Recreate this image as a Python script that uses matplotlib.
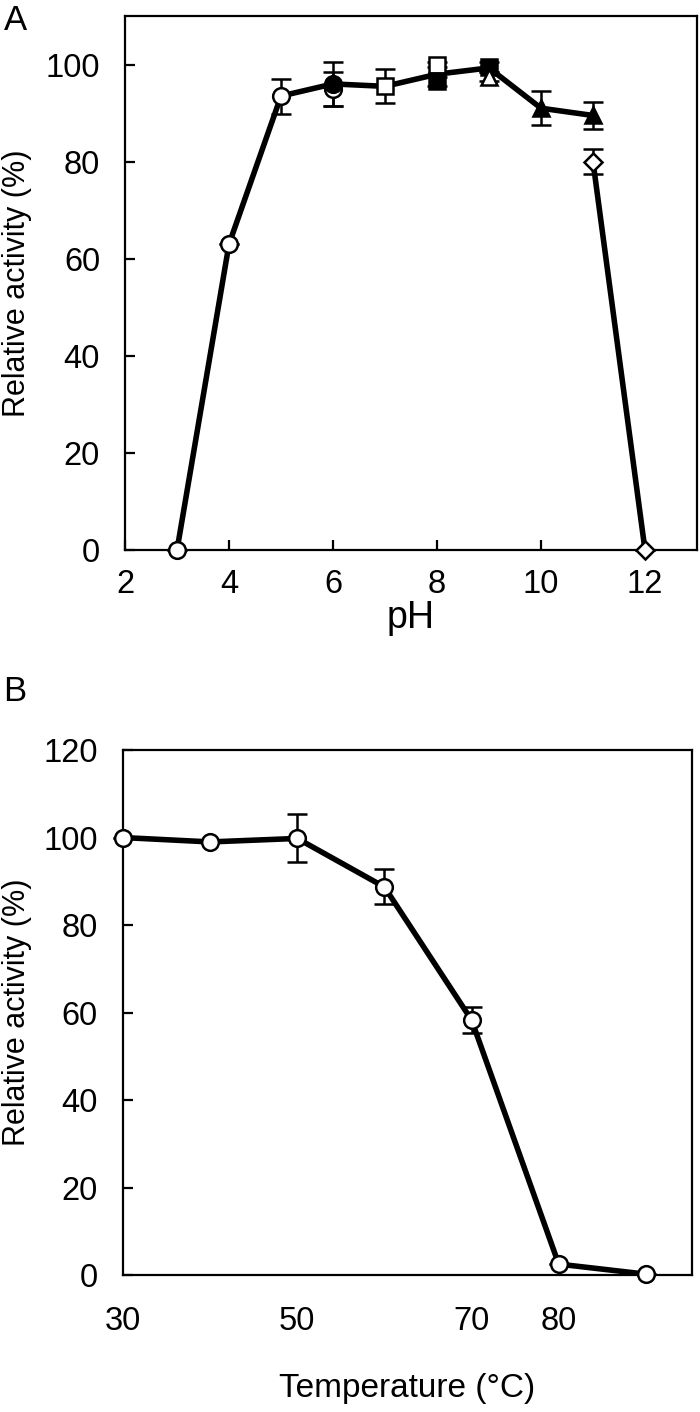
import matplotlib
matplotlib.use("Agg")
import matplotlib.pyplot as plt

plt.rcParams['font.family'] = ['Liberation Sans', 'DejaVu Sans']

# ---- panel A: pH profile (one series per buffer) ----
circ_open_ph = [3, 4, 5, 6]
circ_open_act = [0, 63, 93.5, 95]
circ_open_err = [0, 0, 3.6, 3.5]

circ_fill_ph = [6]
circ_fill_act = [96]
circ_fill_err = [4.5]

sq_open_ph = [7, 8]
sq_open_act = [95.5, 100]
sq_open_err = [3.5, 0.5]

sq_fill_ph = [8, 9]
sq_fill_act = [96.5, 99.5]
sq_fill_err = [1.0, 1.0]

tri_open_ph = [9]
tri_open_act = [97.5]
tri_open_err = [1.0]

tri_fill_ph = [10, 11]
tri_fill_act = [91, 89.5]
tri_fill_err = [3.5, 2.8]

dia_open_ph = [11, 12]
dia_open_act = [80, 0]
dia_open_err = [2.6, 0]

# connecting line drawn through the buffers
trend_ph = [3, 4, 5, 6, 7, 8, 9, 10, 11]
trend_act = [0, 63, 93.5, 96, 95.5, 98, 99.3, 91, 89.5]

# ---- panel B: temperature profile ----
temp = [30, 40, 50, 60, 70, 80, 90]
temp_act = [100, 99, 99.8, 88.7, 58.3, 2.5, 0.2]
temp_err = [0, 0, 5.5, 4, 3, 0, 0]
temp_ticks = [30, 50, 70, 80]

fig = plt.figure(figsize=(7, 14.12), dpi=100)
axA = fig.add_axes([0.1786, 0.6105, 0.8171, 0.3782])
axB = fig.add_axes([0.1757, 0.0970, 0.8129, 0.3718])

lw = 4
ms = 12
mew = 1.8
cap = dict(capsize=7, elinewidth=1.8, capthick=1.8, ecolor='black')

axA.plot(trend_ph, trend_act, color='black', lw=lw, zorder=2)
axA.plot(dia_open_ph, dia_open_act, color='black', lw=lw, zorder=2)

series = [
    (circ_open_ph, circ_open_act, circ_open_err, 'o', 'white'),
    (circ_fill_ph, circ_fill_act, circ_fill_err, 'o', 'black'),
    (sq_open_ph, sq_open_act, sq_open_err, 's', 'white'),
    (sq_fill_ph, sq_fill_act, sq_fill_err, 's', 'black'),
    (tri_open_ph, tri_open_act, tri_open_err, '^', 'white'),
    (tri_fill_ph, tri_fill_act, tri_fill_err, '^', 'black'),
    (dia_open_ph, dia_open_act, dia_open_err, 'D', 'white'),
]
for x, y, e, m, fc in series:
    size = ms - 2.5 if m == 'D' else ms
    axA.errorbar(x, y, yerr=e, fmt=m, ms=size, mfc=fc, mec='black', mew=mew,
                 zorder=3, clip_on=False, **cap)

axA.set_xlim(2, 13)
axA.set_ylim(0, 110)
axA.set_xticks(range(2, 13, 2))
axA.set_yticks(range(0, 101, 20))
axA.set_xlabel('pH', fontsize=27, labelpad=0)
axA.set_ylabel('Relative activity (%)', fontsize=22)
axA.yaxis.set_label_coords(-0.163, 0.5)

axB.plot(temp, temp_act, color='black', lw=lw, zorder=2)
axB.errorbar(temp, temp_act, yerr=temp_err, fmt='o', ms=ms, mfc='white',
             mec='black', mew=mew, zorder=3, clip_on=False, **cap)
axB.set_xlim(30, 95.3)
axB.set_ylim(0, 120)
axB.set_xticks(temp_ticks)
axB.set_yticks(range(0, 121, 20))
axB.set_xlabel('Temperature (\u00b0C)', fontsize=24, labelpad=26)
axB.set_ylabel('Relative activity (%)', fontsize=22)
axB.yaxis.set_label_coords(-0.16, 0.5)

for ax in (axA, axB):
    for s in ax.spines.values():
        s.set_linewidth(1.6)
    ax.tick_params(direction='in', length=7, width=1.6, labelsize=23.5)
    ax.tick_params(axis='y', pad=18)
axA.tick_params(axis='x', top=False, pad=14)
axB.tick_params(axis='x', length=0, pad=22)

fig.text(0.005, 0.997, 'A', fontsize=25, va='top', ha='left')
fig.text(0.005, 0.522, 'B', fontsize=25, va='top', ha='left')

fig.savefig('out.png', dpi=100)
